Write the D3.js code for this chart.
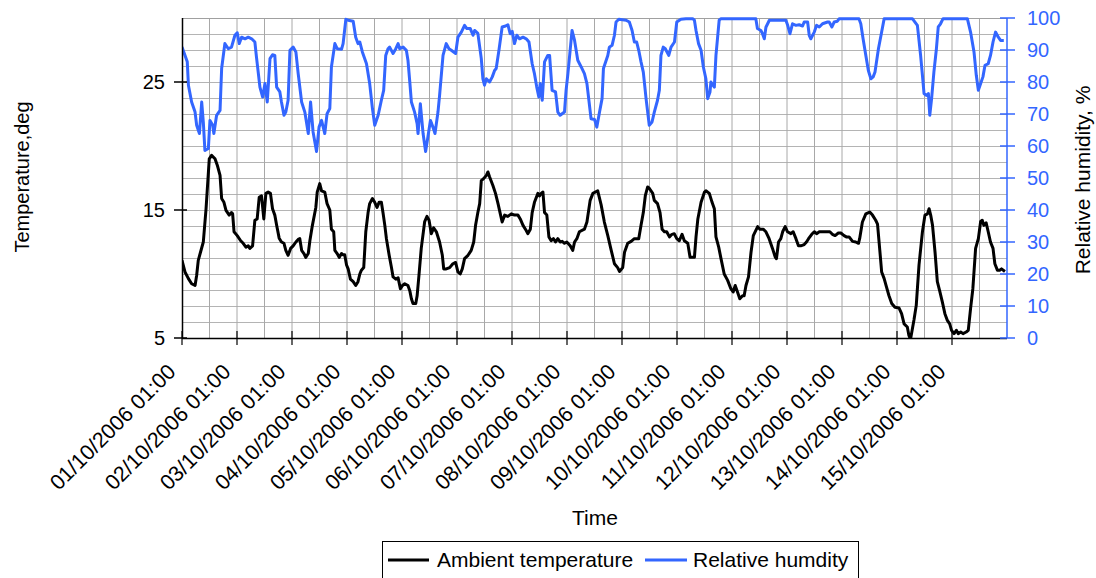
<!DOCTYPE html>
<html><head><meta charset="utf-8">
<script src="https://cdn.jsdelivr.net/npm/d3@7/dist/d3.min.js"></script>
<style>body{margin:0;background:#fff}svg{display:block;font-family:"Liberation Sans",Arial,sans-serif}</style>
</head><body><svg id="c" width="1096" height="578"></svg>
<script>
// Day tick labels (every 24 h starting 01/10/2006 01:00)
const dayLabels = ["01/10/2006 01:00","02/10/2006 01:00","03/10/2006 01:00","04/10/2006 01:00","05/10/2006 01:00","06/10/2006 01:00","07/10/2006 01:00","08/10/2006 01:00","09/10/2006 01:00","10/10/2006 01:00","11/10/2006 01:00","12/10/2006 01:00","13/10/2006 01:00","14/10/2006 01:00","15/10/2006 01:00"];
const tempTicks = [5,15,25];
const rhTicks = [0,10,20,30,40,50,60,70,80,90,100];

// Ambient temperature: hours since 01/10 01:00, deg C
const tempHours = [0,1.3,2.8,4.2,5.7,6.4,7.1,8.1,9.3,10.5,11.9,12.9,14.4,15.4,16.6,17.3,18.3,19.2,20.6,21.6,22.1,22.7,24.1,25.6,26.7,27.9,28.9,29.6,30.8,31.8,32.8,33.7,34.7,35.7,36.6,37.6,38.6,39.5,40.5,41.3,42.4,43.4,44.5,45.3,46.3,47.4,48.5,49.7,50.7,51.4,52.2,53.2,54,55.1,55.8,56.9,58.4,59,60.1,60.9,62.3,63.3,64.5,65.2,66.2,66.7,67.7,68.6,69.6,70.3,71,71.8,72.5,73.5,74.7,75.8,76.8,77.6,78.3,79.3,80.2,81.2,81.9,83.1,84.1,85.1,86,87,87.7,88.5,89.2,90.4,91.4,92.1,93.3,94.3,95.3,96.2,97.2,98.6,99.4,100.1,100.8,102,102.6,103.4,104.4,105.9,106.9,107.8,108.8,109.8,111,112.4,113.6,114.2,115.3,116.8,118.2,119.4,120.4,121.4,122.3,123.3,124.8,126.2,127.3,128.1,129.1,129.9,130.6,131.6,132.8,133.5,134.2,135.7,136.8,137.9,138.9,139.7,140.8,142.2,143.7,145.1,146.6,147.6,148.8,150.2,150.9,152,152.8,153.8,155.3,156,156.7,157.5,158.2,159.2,160.1,161.1,162.1,163,164,165,165.9,166.9,167.9,169.4,170.5,171.3,172.3,173.4,175.6,176.7,178.1,179.3,181.4,182.9,184.3,185.8,187.3,188.7,190.1,190.9,192.3,193.1,194.5,196,197.4,199.3,200.3,201.3,202.2,203.2,203.9,205.4,206.1,207.5,208.6,209.5,210.5,211.5,212.7,213.8,214.8,215.9,217,218.2,219.2,220.7,221.7,223.6,224.3,225.1,226.5,228,228.6,230.1,231.3,232.3,233,234.2,235.2,236.6,238.1,239.5,240.5,241.4,242.4,243.4,244.6,245.3,246.1,247.2,248.3,249.3,251.2,252.2,253.6,254.8,256.2,257.7,258.9,259.4,260.3,261.3,262.1,263.2,264.2,265.7,266.7,267.9,269,270,271.5,272.5,273.4,274.8,275.9,276.9,278.1,279.5,281,282.1,282.7,283.8,285,286.4,287.5,288.9,289.9,291.1,292.6,294,295.2,295.7,296.9,298.4,300.1,301.3,302.7,303.5,304.5,305.3,306.4,307.4,308.5,309.7,311.1,312.9,314,315.1,316.5,317.2,317.9,319.4,320.4,321.6,323.1,324.2,325.3,326,326.7,327.5,328.6,329.6,330.6,331.8,332.9,333.9,335,335.8,336.9,337.9,338.7,339.8,340.8,342.2,343.1,344.1,345.1,346.3,347.5,348.5,349.2,349.9,350.9,351.8,352.8,353.9,354.7,355.8,356.8,357.6,359.1];
const tempValues = [11.07,10.16,9.64,9.24,9.11,9.9,11.07,11.72,12.5,15.1,19.0,19.27,19.0,18.5,17.7,15.9,15.6,14.97,14.6,14.8,14.7,13.3,13.0,12.6,12.4,12.1,12.2,12.0,12.2,14.2,14.3,16.0,16.1,14.3,16.3,16.4,16.3,15.1,14.6,13.8,12.8,12.5,12.4,11.85,11.46,12.0,12.2,12.5,12.7,12.76,11.85,11.6,11.3,11.6,12.6,13.8,15.2,16.4,17.06,16.5,16.4,15.5,15.0,13.5,13.3,11.85,11.6,11.3,11.6,11.5,11.5,10.7,10.4,9.6,9.4,9.1,9.4,10.0,10.3,10.5,13.3,14.8,15.5,15.9,15.6,15.2,15.6,15.6,14.8,13.8,12.76,11.46,10.5,9.77,9.6,9.7,8.85,9.1,9.24,9.1,8.7,8.07,7.7,7.7,8.3,9.9,12.0,14.1,14.5,14.2,13.15,13.6,13.3,12.5,11.46,10.4,10.4,10.5,10.8,10.9,10.16,10.0,10.4,11.2,11.46,11.85,12.5,13.8,14.8,15.5,17.3,17.45,17.7,17.97,17.6,16.9,16.3,15.5,14.7,14.06,14.6,14.5,14.7,14.6,14.6,14.3,13.8,13.4,13.15,13.5,14.8,15.6,16.3,16.1,16.3,16.4,14.8,14.6,12.9,12.6,12.76,12.5,12.76,12.5,12.55,12.4,12.5,12.2,11.85,12.5,12.76,13.3,13.5,14.06,15.75,16.3,16.5,15.4,14.06,13.0,11.85,10.8,10.5,10.2,10.5,11.7,12.4,12.55,12.76,12.76,13.8,14.8,16.15,16.8,16.7,16.3,15.75,15.5,14.8,13.5,13.3,13.3,12.9,13.1,13.15,12.76,12.6,13.1,12.6,12.4,11.3,11.3,12.9,14.3,15.6,16.4,16.5,16.3,15.6,15.1,12.9,12.1,11.2,10.0,9.5,8.85,8.6,9.1,8.6,8.07,8.3,8.3,9.1,9.77,11.7,13.0,13.7,13.5,13.5,13.3,12.76,11.98,11.3,11.2,12.5,12.76,13.3,13.7,13.3,13.15,13.3,12.76,12.2,12.2,12.3,12.5,12.76,13.1,13.3,13.15,13.3,13.3,13.3,13.3,13.3,13.1,13.0,13.2,13.2,13.0,12.9,12.9,12.55,12.5,12.4,12.76,14.06,14.7,14.84,14.6,14.2,13.9,11.85,10.16,9.64,9.0,8.3,7.7,7.4,7.34,6.9,6.1,5.86,5.2,4.9,6.4,7.55,10.7,13.3,14.6,14.7,15.1,14.6,13.8,11.7,9.4,8.7,7.8,6.9,6.4,6.1,5.6,5.34,5.6,5.34,5.47,5.34,5.47,5.6,7.3,8.85,12.0,12.76,14.1,14.2,13.8,14.0,13.3,12.5,12.0,10.8,10.3,10.3,10.4,10.2];

// Relative humidity: hours since 01/10 01:00, %
const rhHours = [0,2.3,2.8,4.2,5.7,6.4,7.6,8.6,9.3,10,11.5,12.2,13.4,13.9,15.1,16.6,17.3,18.7,20.2,21.6,23.1,24.1,25,26,27.5,28.9,30.4,31.8,32.5,34,35.2,36.2,37.2,38.4,39.5,40.5,41.3,42.7,43.4,44.5,45.3,46.3,47.1,48.5,49.7,50.7,52.2,53.6,55.1,56.1,57.2,58.7,59.8,60.9,62.3,63.3,64.5,65.2,66.7,67.7,69.6,70.3,71.5,72.5,74.7,75.8,76.8,77.6,78.7,80.5,81.9,83.1,84.1,85.6,87,88,88.9,89.9,90.6,92.1,93.3,94.3,95,96.5,97.9,98.6,99.4,100.1,101.5,102.6,103,104,105.2,106.3,107.3,108.4,109.5,110.4,111.7,112.4,113.9,115.3,116.5,117.5,119.4,120.4,121.9,123.3,124.3,125.8,127,127.7,129.1,130.6,131.3,132,132.8,134.2,135.4,136.4,137.1,138.3,139.7,141.2,142.2,143.2,144.1,145.1,146.1,147.3,148.8,150.2,151.4,152.8,153.8,154.8,155.7,156.3,157.2,158.2,159.6,160.4,161.5,163,164,165,166.9,167.6,168.4,170.2,171.3,172.7,174.2,175.6,176.7,178.5,180,181,182.2,183.3,183.9,185.8,186.5,187.7,188.7,189.4,190.6,193.8,195.2,196.4,197.4,198.4,199.3,200.3,201.3,202.5,203.9,205.1,206.1,207.5,208.3,209,210,210.9,212.4,213.4,214.9,215.9,217.7,219.9,222.8,223.6,224.3,225.4,226.5,227.5,228.6,229.4,230.4,230.8,232.3,233,234.4,235.2,250.4,251.1,252.6,253.3,254.1,254.8,256.3,263.5,264.3,265.3,266.4,267.9,269.3,270.8,271.5,273,273.7,274.4,275.9,276.9,278.1,279.5,281.7,282.4,283.6,284.6,286,286.8,295.4,296.2,297.2,298.4,299.5,300.6,301.6,302.4,303.9,305.3,306.4,318.7,320.9,322.3,323.1,323.8,324.8,325.7,326.3,327.1,328.1,329.2,330,331,332.1,342.7,344.1,345.6,346.6,347.5,348.5,349.5,350.4,351.8,352.8,353.9,355,356.2,357.2,358.6];
const rhValues = [90.9,86.3,79,73.75,70.6,66.5,63.9,73.75,67.5,58.6,59.2,68,66.5,63.9,69.6,71.1,84.2,92,90.4,90.9,94.6,95.4,92,94,93.5,94,93.5,92.5,87.8,78.4,75.3,79.5,73.75,87.3,88.5,88.3,78.4,76.9,73.75,69.6,70.6,74.3,89.9,90.9,89.4,82.6,73.75,70.6,63.9,73.75,64.4,58.3,65.9,68,63.9,70.1,71.7,84.7,92,90.4,90.2,92,99.6,99.3,99,94,92,92.5,89.4,85.7,79.5,71.7,66.5,69.6,74.3,77.4,88.3,90.4,90.9,88.9,90.4,92,90.4,90.9,89.9,86.8,80,73.75,70.6,67,63.9,73.2,63.9,58.3,62.8,68,65.9,63.9,70.6,75.8,88.3,92,90.4,89.9,88.9,94,95.6,97.7,96.7,96.7,94.6,96.1,95.2,87.3,81,79,81,80,81.6,83.6,84.2,89.9,97.2,97.5,97.9,95.1,95.8,92,94.6,93.5,94,93.5,92.5,85.7,82.6,78.4,75.3,79.5,74.3,86.3,88.3,88.3,77.4,76.9,70.6,69.6,70.6,77.4,82.6,96.1,93,86.8,84.7,82.6,79.5,68.5,68.3,65.9,70.6,74.8,84.2,88.3,90.9,91.5,94.6,98.75,99.6,99.3,98.75,96.1,92.5,92.5,89.9,86.3,83.1,74.8,66.5,67.5,70.6,74.3,77.4,88.3,90.9,90.4,88.3,90.9,92.5,98.75,99.6,99.8,99.8,99.3,96.1,92,89.9,84.7,81,74.8,76.9,80,78.4,88.3,99.3,99.8,99.8,96.7,96.1,95.1,93.5,97.1,99.3,99.3,97.7,95.1,98.2,97.7,97.9,97.5,98.75,98.75,94.6,93.5,95.6,97.7,97.2,98.2,98.75,98.75,97.2,98.75,99,99.8,99.8,98.2,93.5,88.3,83.6,81,81.6,83.1,90.4,95.6,99.8,99.8,97.7,88.3,82.1,76.4,75.8,76.4,69.6,74.8,83.1,90.4,97.2,98.2,99.8,99.8,95.6,89.4,82.1,77.4,79.5,81.6,85.2,85.7,88.3,92.5,95.6,94,93,93];

const svg = d3.select("#c");
const L = 182, R = 1007, T = 18, B = 338;
const x = d3.scaleLinear().domain([0, 360]).range([L, R]);
const yT = d3.scaleLinear().domain([5, 30]).range([B, T]);
const yH = d3.scaleLinear().domain([0, 100]).range([B, T]);
const blue = "#3366ff";

// gridlines
const g = svg.append("g");
g.selectAll("line.h").data(d3.range(5, 100, 5)).join("line")
  .attr("x1", L).attr("x2", R).attr("y1", d => Math.round(yH(d)) + 0.5).attr("y2", d => Math.round(yH(d)) + 0.5)
  .attr("stroke", "#b4b4b4").attr("stroke-width", 1);
g.selectAll("line.v").data(d3.range(12, 360, 12)).join("line")
  .attr("y1", T).attr("y2", B).attr("x1", d => x(d)).attr("x2", d => x(d))
  .attr("stroke", "#a8a8a8").attr("stroke-width", 1);
g.append("line").attr("x1", L).attr("x2", R).attr("y1", T + 0.5).attr("y2", T + 0.5).attr("stroke", "#a0a0a0");

// clip
svg.append("clipPath").attr("id", "pc").append("rect").attr("x", L).attr("y", T - 2).attr("width", R - L).attr("height", B - T + 2);

const lineT = d3.line().x((d, i) => x(tempHours[i])).y(d => yT(d));
const lineH = d3.line().x((d, i) => x(rhHours[i])).y(d => yH(d));
svg.append("path").datum(rhValues).attr("d", lineH).attr("fill", "none").attr("stroke", blue)
  .attr("stroke-width", 3).attr("stroke-linejoin", "round").attr("clip-path", "url(#pc)");
svg.append("path").datum(tempValues).attr("d", lineT).attr("fill", "none").attr("stroke", "#000")
  .attr("stroke-width", 3).attr("stroke-linejoin", "round").attr("clip-path", "url(#pc)");

// left axis
const la = svg.append("g");
la.append("line").attr("x1", L + 0.5).attr("x2", L + 0.5).attr("y1", T).attr("y2", B).attr("stroke", "#000").attr("stroke-width", 1.5);
la.selectAll("line.t").data(tempTicks).join("line").attr("x1", L - 8).attr("x2", L + 5)
  .attr("y1", d => yT(d)).attr("y2", d => yT(d)).attr("stroke", "#000").attr("stroke-width", 1.5);
la.selectAll("text").data(tempTicks).join("text").attr("x", L - 17).attr("y", d => yT(d)).attr("dy", "0.36em")
  .attr("text-anchor", "end").attr("font-size", 20).text(d => d);

// bottom axis
const ba = svg.append("g");
ba.append("line").attr("x1", L).attr("x2", R).attr("y1", B + 0.5).attr("y2", B + 0.5).attr("stroke", "#000").attr("stroke-width", 1.5);
ba.selectAll("line.t").data(dayLabels).join("line").attr("x1", (d, i) => x(i * 24)).attr("x2", (d, i) => x(i * 24))
  .attr("y1", B - 7).attr("y2", B + 7).attr("stroke", "#000").attr("stroke-width", 1.2);
ba.selectAll("text").data(dayLabels).join("text")
  .attr("transform", (d, i) => `translate(${x(i * 24) - 5},${B + 35}) rotate(-45)`)
  .attr("text-anchor", "end").attr("font-size", 21.5).text(d => d);

// right axis
const ra = svg.append("g");
ra.append("line").attr("x1", R).attr("x2", R).attr("y1", T).attr("y2", B).attr("stroke", blue).attr("stroke-width", 1.5);
ra.selectAll("line.t").data(rhTicks).join("line").attr("x1", R - 7).attr("x2", R + 8)
  .attr("y1", d => yH(d)).attr("y2", d => yH(d)).attr("stroke", blue).attr("stroke-width", 1.5);
ra.selectAll("text").data(rhTicks).join("text").attr("x", R + 20).attr("y", d => yH(d)).attr("dy", "0.36em")
  .attr("fill", blue).attr("font-size", 20).text(d => d);

// titles
svg.append("text").attr("transform", "translate(29,177) rotate(-90)").attr("text-anchor", "middle").attr("font-size", 20).text("Temperature,deg");
svg.append("text").attr("transform", "translate(1090,180) rotate(-90)").attr("text-anchor", "middle").attr("font-size", 21).text("Relative humidity, %");
svg.append("text").attr("x", 595).attr("y", 525).attr("text-anchor", "middle").attr("font-size", 21).text("Time");

// legend
const lg = svg.append("g");
lg.append("rect").attr("x", 382.5).attr("y", 541.5).attr("width", 476).attr("height", 40).attr("fill", "#fff").attr("stroke", "#000");
lg.append("line").attr("x1", 388).attr("x2", 429).attr("y1", 560).attr("y2", 560).attr("stroke", "#000").attr("stroke-width", 3);
lg.append("text").attr("x", 437).attr("y", 567).attr("font-size", 21).text("Ambient temperature");
lg.append("line").attr("x1", 645).attr("x2", 687).attr("y1", 560).attr("y2", 560).attr("stroke", blue).attr("stroke-width", 3);
lg.append("text").attr("x", 693).attr("y", 567).attr("font-size", 21).text("Relative humdity");
</script></body></html>
